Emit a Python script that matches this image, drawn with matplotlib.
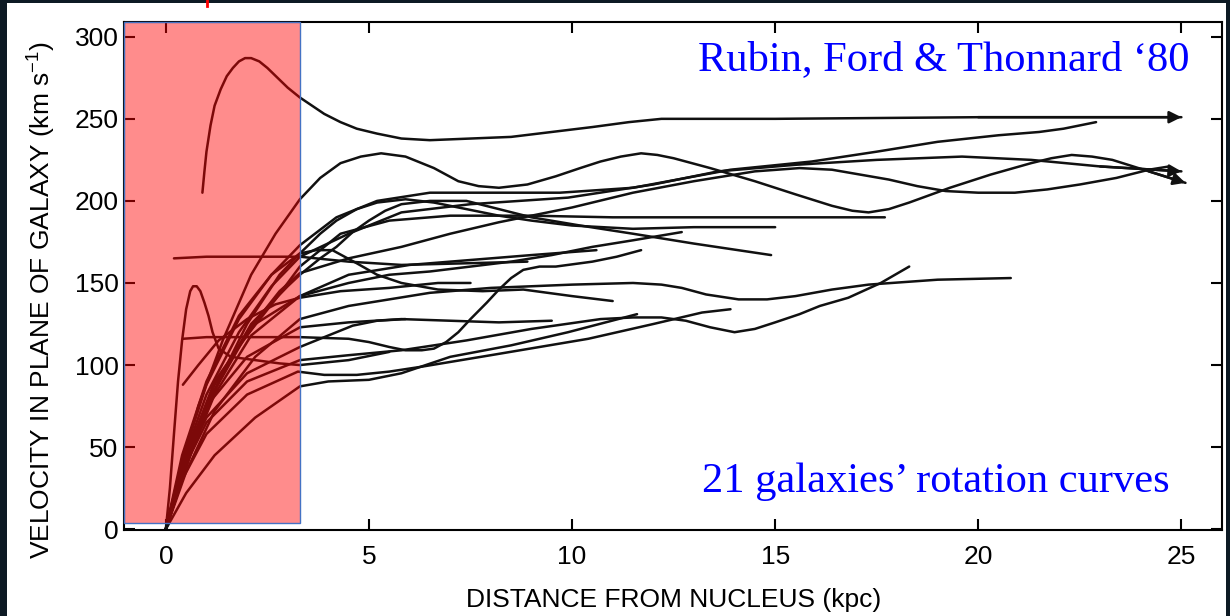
import matplotlib.pyplot as plt
from matplotlib.patches import Rectangle
from matplotlib.lines import Line2D

plt.rcParams['font.family'] = ['Liberation Sans', 'DejaVu Sans']
plt.rcParams['mathtext.default'] = 'regular'

# curvas de rotação (r em kpc, v em km/s)
gal01_r = [0.9, 0.95, 1.0, 1.1, 1.2, 1.35, 1.5, 1.65, 1.8, 1.95, 2.1, 2.3, 2.5, 2.75, 3.0, 3.3, 3.6, 3.9,
           4.3, 4.7, 5.2, 5.8, 6.5, 7.5, 8.5, 9.5, 10.5, 11.4, 12.2, 15.0, 20.0, 25.0]
gal01_v = [205, 218, 230, 246, 258, 268, 276, 281, 285, 287, 287, 285, 281, 275, 269, 263, 258, 253,
           248, 244, 241, 238, 237, 238, 239, 242, 245, 248, 250, 250, 251, 251]

gal02_r = [0, 0.3, 0.8, 1.4, 2.1, 2.7, 3.3, 3.8, 4.3, 4.8, 5.3, 5.9, 6.6, 7.2, 7.7, 8.2, 8.9, 9.6, 10.2,
           10.7, 11.2, 11.7, 12.1, 12.5, 13.4, 14.5, 15.5, 16.4, 16.9, 17.3, 17.8, 18.3, 19.3, 20.3, 21.3,
           21.8, 22.3, 22.8, 23.3, 24.2, 25.1]
gal02_v = [0, 30, 75, 115, 155, 180, 201, 214, 223, 227, 229, 227, 220, 212, 209, 208, 210, 215, 220,
           224, 227, 229, 228, 226, 220, 212, 204, 197, 194, 193, 195, 199, 208, 216, 223, 226, 228, 227,
           225, 218, 211]

gal03_r = [0, 0.4, 1.0, 1.8, 2.6, 3.3, 4.2, 5.2, 6.5, 8.0, 9.7, 11.5, 13.9, 15.9, 17.5, 19.0, 20.5, 21.5, 22.1, 22.9]
gal03_v = [0, 45, 90, 130, 155, 173, 190, 200, 205, 205, 205, 208, 219, 224, 230, 236, 240, 242, 244, 248]

gal04_r = [0, 0.4, 1.0, 1.8, 2.6, 3.3, 4.5, 5.8, 7.5, 9.9, 12.0, 13.6, 15.5, 17.5, 19.6, 21.3, 23.0, 25.0]
gal04_v = [0, 40, 82, 120, 148, 166, 180, 193, 198, 202, 210, 218, 222, 225, 227, 225, 221, 218]

gal05_r = [0, 0.5, 1.2, 2.0, 2.8, 3.3, 4.5, 5.8, 7.0, 8.2, 10.0, 11.5, 13.0, 14.5, 15.6, 16.4, 17.1, 17.8,
           18.5, 19.2, 20.0, 20.9, 21.7, 22.5, 23.4, 24.2, 24.7]
gal05_v = [0, 42, 88, 120, 145, 156, 165, 172, 180, 187, 196, 205, 212, 218, 220, 219, 216, 213,
           209, 206, 205, 205, 207, 210, 214, 219, 221]

gal06_r = [0, 0.5, 1.1, 1.9, 2.7, 3.3, 4.3, 5.5, 7.0, 9.0, 11.0, 13.0, 15.0, 17.7]
gal06_v = [0, 40, 80, 115, 140, 160, 180, 188, 191, 191, 190, 190, 190, 190]

gal07_r = [0, 0.5, 1.2, 2.0, 2.8, 3.3, 3.8, 4.2, 4.7, 5.2, 5.9, 6.6, 7.4, 8.2, 9.0, 10.0, 11.5, 13.0, 15.0]
gal07_v = [0, 38, 85, 125, 155, 168, 180, 188, 195, 199, 201, 199, 195, 191, 188, 185, 183, 184, 184]

gal08_r = [0, 0.6, 1.3, 2.1, 3.0, 3.3, 3.8, 4.2, 4.6, 5.0, 5.4, 5.8, 6.5, 7.4, 8.2, 9.0, 10.2, 11.5, 13.0, 14.9]
gal08_v = [0, 45, 90, 125, 148, 155, 165, 172, 181, 188, 194, 198, 200, 200, 195, 190, 185, 180, 174, 167]

gal09_r = [0.42, 1.0, 2.0, 3.3, 4.5, 5.0, 5.5, 5.9, 6.3, 6.6, 6.9, 7.2, 7.5, 7.9, 8.2, 8.5, 8.8, 9.2,
           9.6, 10.5, 11.1, 11.7]
gal09_v = [116, 117, 117, 117, 116, 114, 111, 109, 109, 110, 114, 120, 128, 138, 146, 153, 158, 160,
           160, 163, 166, 170]

gal10_r = [0, 0.5, 1.2, 2.1, 3.3, 4.5, 6.0, 7.5, 9.0, 10.6]
gal10_v = [0, 40, 82, 118, 142, 155, 161, 164, 167, 170]

gal11_r = [0.2, 1.0, 2.0, 3.3, 4.5, 5.8, 7.4, 8.9]
gal11_v = [165, 166, 166, 166, 163, 161, 162, 163]

gal12_r = [0, 0.1, 0.2, 0.3, 0.4, 0.5, 0.6, 0.67, 0.76, 0.85, 0.95, 1.05, 1.15, 1.3, 1.6, 2.2, 2.8, 3.3, 4.5, 5.5]
gal12_v = [0, 25, 58, 90, 115, 134, 145, 148, 148, 145, 138, 130, 120, 110, 105, 103, 101, 100, 103, 108]

gal13_r = [0.42, 0.8, 1.3, 2.0, 2.7, 3.3, 4.3, 5.5, 6.7, 7.5]
gal13_v = [88, 100, 115, 128, 137, 141, 145, 147, 150, 150]

gal14_r = [0, 0.5, 1.2, 2.2, 3.3, 4.5, 5.5, 6.5, 8.0, 10.0, 11.5, 12.2, 12.7, 13.3, 14.1, 14.8, 15.5,
           16.4, 17.3, 19.0, 20.8]
gal14_v = [0, 35, 72, 105, 128, 136, 140, 144, 147, 149, 150, 149, 147, 143, 140, 140, 142, 146,
           149, 152, 153]

gal15_r = [0, 0.4, 1.0, 2.0, 3.3, 4.5, 5.8, 7.4, 9.0, 10.7, 11.5, 12.2, 12.8, 13.4, 14.0, 14.5, 15.0,
           15.6, 16.1, 16.8, 17.6, 18.3]
gal15_v = [0, 35, 65, 90, 103, 106, 109, 115, 122, 128, 129, 129, 127, 123, 120, 122, 126,
           131, 136, 141, 150, 160]

gal16_r = [0, 0.5, 1.2, 2.2, 3.3, 4.0, 5.0, 5.8, 7.0, 8.5, 9.9, 11.6]
gal16_v = [0, 22, 45, 68, 87, 90, 91, 95, 105, 112, 120, 131]

gal17_r = [0, 0.4, 1.0, 2.0, 3.25, 3.9, 4.7, 5.5, 6.3, 8.0, 10.4, 12.0, 13.2, 13.9]
gal17_v = [0, 30, 58, 82, 96, 94, 94, 96, 99, 106, 116, 125, 132, 134]

gal18_r = [0, 0.4, 1.0, 2.0, 3.3, 4.5, 5.8, 7.0, 8.2, 9.5]
gal18_v = [0, 40, 75, 105, 123, 126, 128, 127, 126, 127]

gal19_r = [0, 0.4, 1.0, 1.8, 2.6, 3.3, 3.7, 4.1, 4.4, 4.7, 5.2, 5.8, 6.7, 7.8, 8.8, 10.0, 11.0]
gal19_v = [0, 42, 88, 128, 155, 168, 170, 170, 166, 162, 155, 150, 146, 145, 146, 142, 139]

gal20_r = [0, 0.4, 1.0, 2.0, 3.3, 4.0, 4.6, 5.2, 5.9]
gal20_v = [0, 38, 68, 95, 111, 118, 124, 127, 128]

gal21_r = [0, 0.5, 1.2, 2.2, 3.3, 4.5, 5.5, 6.5, 7.5, 8.5, 9.5, 10.5, 11.5, 12.7]
gal21_v = [0, 45, 90, 125, 142, 150, 155, 157, 160, 163, 167, 172, 176, 181]

curvas = [(gal01_r, gal01_v), (gal02_r, gal02_v), (gal03_r, gal03_v), (gal04_r, gal04_v),
          (gal05_r, gal05_v), (gal06_r, gal06_v), (gal07_r, gal07_v), (gal08_r, gal08_v),
          (gal09_r, gal09_v), (gal10_r, gal10_v), (gal11_r, gal11_v), (gal12_r, gal12_v),
          (gal13_r, gal13_v), (gal14_r, gal14_v), (gal15_r, gal15_v), (gal16_r, gal16_v),
          (gal17_r, gal17_v), (gal18_r, gal18_v), (gal19_r, gal19_v), (gal20_r, gal20_v),
          (gal21_r, gal21_v)]
com_seta = [(gal01_r, gal01_v), (gal02_r, gal02_v), (gal04_r, gal04_v)]

W, H = 1230, 616
fig = plt.figure(figsize=(W / 100, H / 100), dpi=100, facecolor='#0d1a24')
fig.patches.append(Rectangle((7 / W, 0), (1226 - 7) / W, 1 - 3 / H, transform=fig.transFigure,
                             facecolor='white', edgecolor='none', zorder=-10))
fig.lines.append(Line2D([207 / W, 207 / W], [1, 1 - 6 / H], color='red', lw=2,
                        transform=fig.transFigure, zorder=-5))

ax = fig.add_axes([124 / W, (H - 530) / H, (1222 - 124) / W, (530 - 22) / H])
ax.set_facecolor('white')

for r, v in curvas:
    ax.plot(r, v, color='#111111', lw=1.8, solid_capstyle='round', solid_joinstyle='round', zorder=2)

for r, v in com_seta:
    ax.annotate('', xy=(r[-1], v[-1]), xytext=(r[-2], v[-2]),
                arrowprops=dict(arrowstyle='-|>', color='#111111', lw=1.8, mutation_scale=18,
                                shrinkA=0, shrinkB=0), zorder=2)

ax.set_xlim(-1.03, 26.0)
ax.set_ylim(-0.5, 309)
ax.set_xticks([0, 5, 10, 15, 20, 25])
ax.set_yticks([0, 50, 100, 150, 200, 250, 300])
ax.tick_params(direction='in', length=8, width=1.5, top=True, right=True, labelsize=19)
ax.tick_params(axis='x', pad=11)
ax.tick_params(axis='y', pad=4)
for s in ax.spines.values():
    s.set_linewidth(1.5)

ax.add_patch(Rectangle((-1.03, 3.5), 3.3 + 1.03, 309 - 3.5, facecolor=(1, 0, 0, 0.45),
                       edgecolor='#4472C4', lw=1, zorder=3, clip_on=False))

ax.text(13.1, 279.6, 'Rubin, Ford & Thonnard \u201880', family=['Liberation Serif'], fontsize=30.6,
        color='#0000FF', va='baseline', ha='left', zorder=6)
ax.text(13.2, 22.5, '21 galaxies\u2019 rotation curves', family=['Liberation Serif'], fontsize=30.6,
        color='#0000FF', va='baseline', ha='left', zorder=6)

fig.text(674 / W, 1 - 600 / H, 'DISTANCE FROM NUCLEUS (kpc)', fontsize=19, ha='center', va='center')
fig.text(42 / W, 1 - 300 / H, 'VELOCITY IN PLANE OF GALAXY (km s$^{-1}$)', fontsize=19,
         rotation=90, ha='center', va='center')

fig.savefig('out.png', dpi=100)
